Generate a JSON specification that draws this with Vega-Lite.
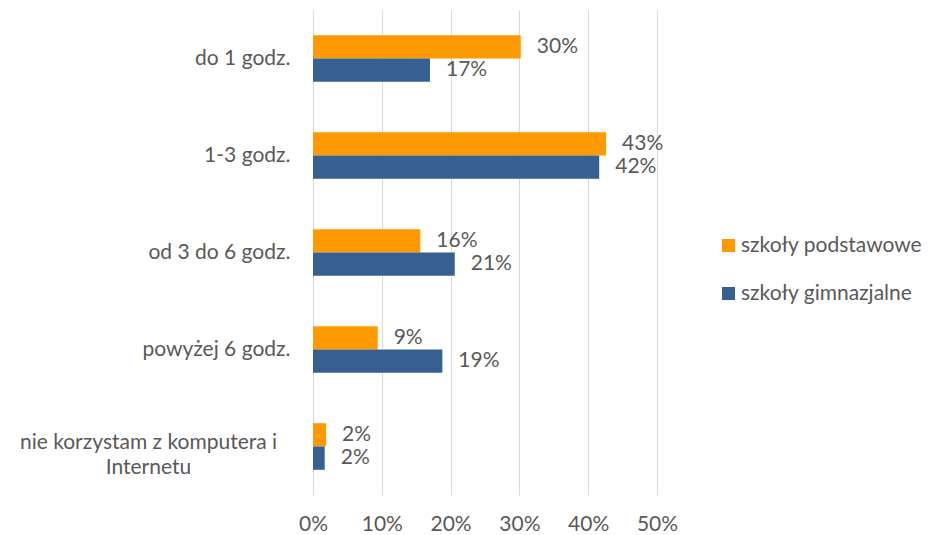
{
  "$schema": "https://vega.github.io/schema/vega-lite/v6.json",
  "autosize": {"type": "none"},
  "width": 344,
  "height": 485,
  "padding": {"left": 313, "top": 10, "right": 273, "bottom": 40},
  "background": "white",
  "config": {
    "view": {"stroke": null},
    "font": "Lato",
    "axis": {"labelColor": "#595959", "labelFontSize": 21, "domain": false, "ticks": false, "titleColor": "#595959"},
    "legend": {"labelColor": "#595959", "labelFontSize": 21}
  },
  "data": {
    "values": [
      {"kategoria": "do 1 godz.", "szkoła": "szkoły podstawowe", "udział": 0.302},
      {"kategoria": "do 1 godz.", "szkoła": "szkoły gimnazjalne", "udział": 0.17},
      {"kategoria": "1-3 godz.", "szkoła": "szkoły podstawowe", "udział": 0.426},
      {"kategoria": "1-3 godz.", "szkoła": "szkoły gimnazjalne", "udział": 0.416},
      {"kategoria": "od 3 do 6 godz.", "szkoła": "szkoły podstawowe", "udział": 0.156},
      {"kategoria": "od 3 do 6 godz.", "szkoła": "szkoły gimnazjalne", "udział": 0.206},
      {"kategoria": "powyżej 6 godz.", "szkoła": "szkoły podstawowe", "udział": 0.094},
      {"kategoria": "powyżej 6 godz.", "szkoła": "szkoły gimnazjalne", "udział": 0.188},
      {"kategoria": "nie korzystam z komputera i Internetu", "szkoła": "szkoły podstawowe", "udział": 0.019},
      {"kategoria": "nie korzystam z komputera i Internetu", "szkoła": "szkoły gimnazjalne", "udział": 0.017}
    ]
  },
  "encoding": {
    "y": {
      "field": "kategoria",
      "type": "nominal",
      "sort": ["do 1 godz.", "1-3 godz.", "od 3 do 6 godz.", "powyżej 6 godz.", "nie korzystam z komputera i Internetu"],
      "scale": {"paddingInner": 0.52, "paddingOuter": 0.26},
      "axis": {
        "title": null,
        "labelPadding": {"condition": {"test": "datum.value == 'nie korzystam z komputera i Internetu'", "value": 165}, "value": 23},
        "labelAlign": {"condition": {"test": "datum.value == 'nie korzystam z komputera i Internetu'", "value": "center"}, "value": "right"},
        "labelOffset": {"condition": {"test": "datum.value == 'nie korzystam z komputera i Internetu'", "value": -4}, "value": 0},
        "labelLineHeight": 25,
        "labelLimit": 400,
        "labelExpr": "datum.value == 'nie korzystam z komputera i Internetu' ? ['nie korzystam z komputera i', 'Internetu'] : datum.label"
      }
    },
    "yOffset": {
      "field": "szkoła",
      "type": "nominal",
      "sort": ["szkoły podstawowe", "szkoły gimnazjalne"],
      "scale": {"paddingInner": 0, "paddingOuter": 0}
    },
    "x": {
      "field": "udział",
      "type": "quantitative",
      "scale": {"domain": [0, 0.5], "nice": false},
      "axis": {
        "title": null,
        "format": ".0%",
        "values": [0, 0.1, 0.2, 0.3, 0.4, 0.5],
        "grid": true,
        "gridColor": "#d9d9d9",
        "labelFlush": false,
        "labelOverlap": false,
        "labelPadding": 18
      }
    }
  },
  "layer": [
    {
      "mark": {"type": "bar"},
      "encoding": {
        "color": {
          "field": "szkoła",
          "type": "nominal",
          "sort": ["szkoły podstawowe", "szkoły gimnazjalne"],
          "scale": {"domain": ["szkoły podstawowe", "szkoły gimnazjalne"], "range": ["#FF9900", "#376092"]},
          "legend": {
            "title": null,
            "orient": "none",
            "legendX": 405,
            "legendY": 225,
            "symbolType": "square",
            "symbolSize": 169,
            "symbolStrokeWidth": 0,
            "labelOffset": 2,
            "rowPadding": 26,
            "padding": 0,
            "labelLimit": 300
          }
        }
      }
    },
    {
      "mark": {"type": "text", "align": "left", "baseline": "middle", "dx": 16, "fontSize": 21, "color": "#595959"},
      "encoding": {
        "text": {"field": "udział", "type": "quantitative", "format": ".0%"}
      }
    }
  ]
}
